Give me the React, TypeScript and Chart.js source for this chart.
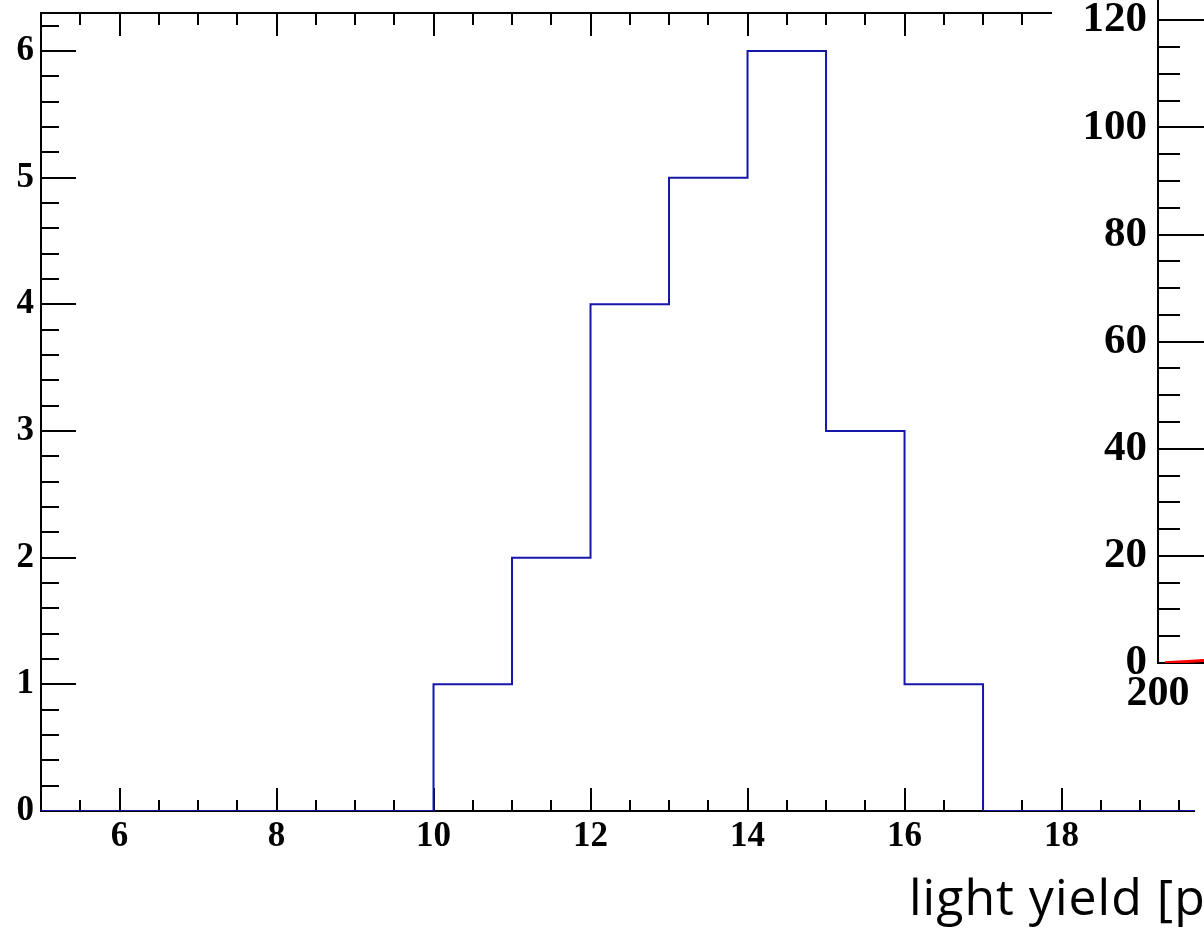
import React, { useEffect, useRef } from 'react';
import { Chart, registerables } from 'chart.js';

Chart.register(...registerables);

// ---- main histogram data ----
const binEdges = [5, 6, 7, 8, 9, 10, 11, 12, 13, 14, 15, 16, 17, 18, 19, 20];
const binCounts = [0, 0, 0, 0, 0, 1, 2, 4, 5, 6, 3, 1, 0, 0, 0];
const xMajorLabels = [6, 8, 10, 12, 14, 16, 18];
const yMajorLabels = [0, 1, 2, 3, 4, 5, 6];
const xAxisTitle = 'light yield [p';

// ---- partially visible second pad ----
const insetX = [214, 260, 300, 360];
const insetY = [0.05, 0.3, 0.5, 0.8];
const insetYLabels = [0, 20, 40, 60, 80, 100, 120];
const insetXLabels = [200];

// tick mark positions (axis divisions, not data)
const stepTicks = (from: number, to: number, step: number) => {
  const out: number[] = [];
  const n = Math.round((to - from) / step);
  for (let i = 0; i <= n; i++) out.push(Math.round((from + i * step) * 1000) / 1000);
  return out;
};
const xTickValues = stepTicks(5.5, 19.5, 0.5);
const yTickValues = stepTicks(0, 6.2, 0.2);
const insetYTickValues = stepTicks(0, 135, 5);
const insetXTickValues = stepTicks(200, 1000, 200);

const SERIF = '"Liberation Serif", "Times New Roman", serif';
const HIST_COLOR = '#1616a8';

const isMultiple = (v: number, m: number) => Math.abs(v / m - Math.round(v / m)) < 1e-6;
const inList = (list: number[], v: number) => list.some((m) => Math.abs(m - v) < 1e-6);

const mainFrame = {
  id: 'mainFrame',
  beforeDraw(chart: any) {
    const { ctx, width, height } = chart;
    ctx.save();
    ctx.fillStyle = '#fff';
    ctx.fillRect(0, 0, width, height);
    ctx.restore();
  },
  beforeDatasetsDraw(chart: any) {
    const { ctx, chartArea: a, scales } = chart;
    const x = scales.x;
    const y = scales.y;
    ctx.save();
    ctx.strokeStyle = '#000';
    ctx.lineWidth = 2;
    ctx.beginPath();
    ctx.moveTo(a.right, a.top);
    ctx.lineTo(a.left, a.top);
    ctx.lineTo(a.left, a.bottom);
    ctx.lineTo(a.right, a.bottom);
    ctx.stroke();
    ctx.beginPath();
    xTickValues.forEach((v) => {
      const px = Math.round(x.getPixelForValue(v));
      const major = isMultiple(v, 2);
      const lb = major ? 23 : 11;
      const lt = major ? 23 : 12;
      ctx.moveTo(px, a.bottom);
      ctx.lineTo(px, a.bottom - lb);
      ctx.moveTo(px, a.top);
      ctx.lineTo(px, a.top + lt);
    });
    yTickValues.forEach((v) => {
      const py = Math.round(y.getPixelForValue(v));
      const major = isMultiple(v, 1);
      const l = major ? 35 : 18;
      ctx.moveTo(a.left, py);
      ctx.lineTo(a.left + l, py);
    });
    ctx.stroke();
    ctx.restore();
  },
  afterDraw(chart: any) {
    const { ctx } = chart;
    ctx.save();
    ctx.fillStyle = '#000';
    ctx.font = '50px "Open Sans", Lato, sans-serif';
    try {
      (ctx as any).letterSpacing = '1px';
    } catch (e) {}
    ctx.textAlign = 'left';
    ctx.textBaseline = 'alphabetic';
    ctx.fillText(xAxisTitle, 909, 915);
    ctx.restore();
  },
};

const insetFrame = {
  id: 'insetFrame',
  beforeDraw(chart: any) {
    const { ctx, width, height } = chart;
    ctx.save();
    ctx.fillStyle = '#fff';
    ctx.fillRect(0, 0, width, height);
    ctx.restore();
  },
  beforeDatasetsDraw(chart: any) {
    const { ctx, chartArea: a, scales } = chart;
    const x = scales.x;
    const y = scales.y;
    ctx.save();
    ctx.strokeStyle = '#000';
    ctx.lineWidth = 2;
    ctx.beginPath();
    ctx.moveTo(a.left, a.top);
    ctx.lineTo(a.left, a.bottom);
    ctx.lineTo(a.right, a.bottom);
    insetYTickValues.forEach((v) => {
      const py = Math.round(y.getPixelForValue(v));
      const major = isMultiple(v, 20);
      const l = major ? 46 : 22;
      ctx.moveTo(a.left, py);
      ctx.lineTo(a.left + l, py);
    });
    insetXTickValues.forEach((v) => {
      const px = Math.round(x.getPixelForValue(v));
      ctx.moveTo(px, a.bottom);
      ctx.lineTo(px, a.bottom - 20);
    });
    ctx.stroke();
    ctx.restore();
  },
};

const setTicks = (values: number[]) => (s: any) => {
  s.ticks = values.map((v) => ({ value: v }));
};

function mainConfig(): any {
  const points = binEdges.map((e, i) => ({ x: e, y: binCounts[Math.min(i, binCounts.length - 1)] }));
  return {
    type: 'line',
    data: {
      datasets: [
        {
          data: points,
          stepped: 'before',
          borderColor: HIST_COLOR,
          borderWidth: 2,
          pointRadius: 0,
          fill: false,
          tension: 0,
        },
      ],
    },
    options: {
      animation: false,
      responsive: false,
      maintainAspectRatio: false,
      layout: { padding: { top: 13, right: 9, left: 0, bottom: 0 } },
      plugins: { legend: { display: false }, tooltip: { enabled: false } },
      scales: {
        x: {
          type: 'linear',
          min: 5,
          max: 19.7,
          grid: { display: false, drawTicks: false, tickLength: 0 },
          border: { display: false },
          afterBuildTicks: setTicks(xTickValues),
          ticks: {
            autoSkip: false,
            maxRotation: 0,
            minRotation: 0,
            padding: 5,
            color: '#000',
            font: { family: SERIF, size: 35, weight: 'bold' },
            callback: (v: number) => (inList(xMajorLabels, v) ? String(Math.round(v)) : ''),
          },
          afterFit: (s: any) => {
            s.height = 118;
            s.paddingLeft = 0;
            s.paddingRight = 0;
          },
        },
        y: {
          type: 'linear',
          min: 0,
          max: 6.3,
          grid: { display: false, drawTicks: false, tickLength: 0 },
          border: { display: false },
          afterBuildTicks: setTicks(yTickValues),
          ticks: {
            autoSkip: false,
            padding: 7,
            color: '#000',
            font: { family: SERIF, size: 35, weight: 'bold' },
            callback: (v: number) => (inList(yMajorLabels, v) ? String(Math.round(v)) : ''),
          },
          afterFit: (s: any) => {
            s.width = 41;
            s.paddingTop = 0;
            s.paddingBottom = 0;
          },
        },
      },
    },
    plugins: [mainFrame],
  };
}

function insetConfig(): any {
  const points = insetX.map((x, i) => ({ x, y: insetY[i] }));
  return {
    type: 'line',
    data: {
      datasets: [
        {
          data: points,
          borderColor: '#ff0000',
          borderWidth: 3,
          pointRadius: 0,
          fill: false,
          tension: 0,
        },
      ],
    },
    options: {
      animation: false,
      responsive: false,
      maintainAspectRatio: false,
      layout: { padding: 0 },
      plugins: { legend: { display: false }, tooltip: { enabled: false } },
      scales: {
        x: {
          type: 'linear',
          min: 200,
          max: 1000,
          grid: { display: false, drawTicks: false, tickLength: 0 },
          border: { display: false },
          afterBuildTicks: setTicks(insetXTickValues),
          ticks: {
            autoSkip: false,
            maxRotation: 0,
            minRotation: 0,
            padding: 6,
            color: '#000',
            font: { family: SERIF, size: 42, weight: 'bold' },
            callback: (v: number) => (inList(insetXLabels, v) ? String(Math.round(v)) : ''),
          },
          afterFit: (s: any) => {
            s.height = 77;
            s.paddingLeft = 0;
            s.paddingRight = 0;
          },
        },
        y: {
          type: 'linear',
          min: 0,
          max: 135,
          grid: { display: false, drawTicks: false, tickLength: 0 },
          border: { display: false },
          afterBuildTicks: setTicks(insetYTickValues),
          ticks: {
            autoSkip: false,
            padding: 11,
            color: '#000',
            font: { family: SERIF, size: 43, weight: 'bold' },
            callback: (v: number) => (inList(insetYLabels, v) ? String(Math.round(v)) : ''),
          },
          afterFit: (s: any) => {
            s.width = 106;
            s.paddingTop = 0;
            s.paddingBottom = 0;
          },
        },
      },
    },
    plugins: [insetFrame],
  };
}

export default function App() {
  const mainRef = useRef<HTMLCanvasElement>(null);
  const insetRef = useRef<HTMLCanvasElement>(null);

  useEffect(() => {
    const main = new Chart(mainRef.current as HTMLCanvasElement, mainConfig());
    const inset = new Chart(insetRef.current as HTMLCanvasElement, insetConfig());
    return () => {
      main.destroy();
      inset.destroy();
    };
  }, []);

  return (
    <div
      style={{
        position: 'absolute',
        left: 0,
        top: 0,
        width: 1204,
        height: 929,
        overflow: 'hidden',
        background: '#fff',
      }}
    >
      <canvas
        ref={mainRef}
        width={1204}
        height={929}
        style={{ position: 'absolute', left: 0, top: 0, width: 1204, height: 929 }}
      />
      <canvas
        ref={insetRef}
        width={500}
        height={800}
        style={{ position: 'absolute', left: 1052, top: -60, width: 500, height: 800 }}
      />
    </div>
  );
}
